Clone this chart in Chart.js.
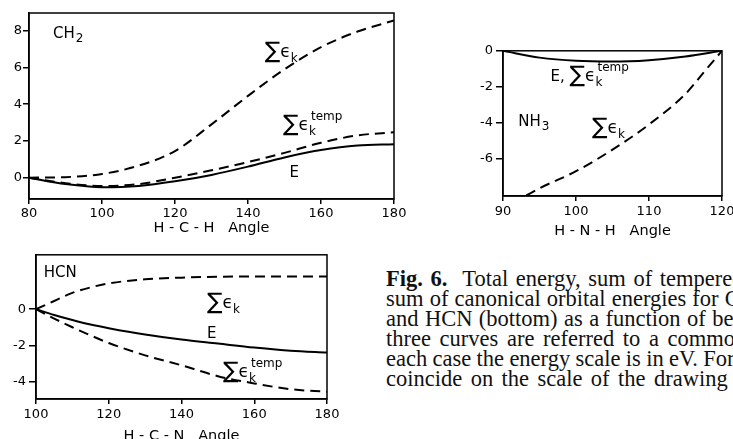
<!DOCTYPE html>
<html>
<head>
<meta charset="utf-8">
<script src="https://cdn.jsdelivr.net/npm/chart.js@4.4.1/dist/chart.umd.min.js"></script>
<style>
  html, body { margin: 0; padding: 0; background: #fff; width: 733px; height: 439px; overflow: hidden; }
  body { position: relative; }
  canvas { position: absolute; }
  .cap { position: absolute; left: 386px; font-family: "Liberation Serif", serif; font-size: 22.5px;
         line-height: 20px; white-space: pre; color: #111; }
  .cap b { font-weight: bold; }
</style>
</head>
<body>
<canvas id="ch2"></canvas>
<canvas id="nh3"></canvas>
<canvas id="hcn"></canvas>
<div class="cap" style="top:269px;word-spacing:2px"><b>Fig. 6.</b>  Total energy, sum of tempered</div>
<div class="cap" style="top:289px;word-spacing:0.5px">sum of canonical orbital energies for CH</div>
<div class="cap" style="top:309px;word-spacing:0.8px">and HCN (bottom) as a function of bending</div>
<div class="cap" style="top:329px;word-spacing:3px">three curves are referred to a common</div>
<div class="cap" style="top:349px;word-spacing:-0.3px">each case the energy scale is in eV. For</div>
<div class="cap" style="top:369px;word-spacing:2.8px">coincide on the scale of the drawing</div>

<script>
/* CH2 (oben links) */
const ch2Angle = [80, 90, 100, 110, 120, 130, 140, 150, 160, 170, 180];
const ch2E     = [0, -0.35, -0.52, -0.45, -0.2, 0.15, 0.6, 1.1, 1.5, 1.75, 1.82];
const ch2Temp  = [0, -0.3, -0.45, -0.35, 0.0, 0.4, 0.85, 1.35, 1.9, 2.3, 2.47];
const ch2Sum   = [0, 0.03, 0.2, 0.65, 1.45, 2.9, 4.45, 5.9, 7.1, 7.95, 8.55];
const ch2XTicks = [80, 100, 120, 140, 160, 180];
const ch2YTicks = [0, 2, 4, 6, 8];

/* NH3 (oben rechts) */
const nh3EAngle   = [90, 95, 100, 105, 110, 115, 120];
const nh3E        = [0, -0.38, -0.56, -0.6, -0.52, -0.32, 0];
const nh3SumAngle = [93.2, 95, 100, 105, 110, 115, 117.5, 120];
const nh3Sum      = [-8.05, -7.65, -6.7, -5.5, -4.1, -2.4, -1.2, 0];
const nh3XTicks = [90, 100, 110, 120];
const nh3YTicks = [0, -2, -4, -6];

/* HCN (unten links) */
const hcnAngle = [100, 105, 110, 115, 120, 130, 140, 150, 160, 170, 180];
const hcnE     = [0, -0.32, -0.6, -0.85, -1.05, -1.4, -1.68, -1.9, -2.12, -2.3, -2.4];
const hcnTemp  = [0, -0.52, -1.0, -1.45, -1.87, -2.55, -3.1, -3.7, -4.1, -4.42, -4.56];
const hcnSum   = [0, 0.45, 0.9, 1.2, 1.42, 1.65, 1.74, 1.79, 1.8, 1.8, 1.8];
const hcnXTicks = [100, 120, 140, 160, 180];
const hcnYTicks = [0, -2, -4];

const FONT = '"DejaVu Sans", sans-serif';
const AXIS_W = 30, PAD_T = 10, PAD_R = 16, XAXIS_H = 45;

function pts(xs, ys) { return xs.map((x, i) => ({ x, y: ys[i] })); }

function line(data, dashed) {
  return { data, borderColor: '#000', borderWidth: 2, pointRadius: 0, fill: false,
           cubicInterpolationMode: 'monotone', borderDash: dashed ? [10, 6] : [] };
}

/* Σε_k mit optionalem "temp" */
function drawSum(ctx, x, y, temp, prefix) {
  if (prefix) {
    ctx.font = '15px ' + FONT;
    ctx.fillText(prefix, x, y);
    x += ctx.measureText(prefix).width;
  }
  ctx.font = '23px ' + FONT;
  ctx.fillText('\u2211', x, y + 1);
  x += ctx.measureText('\u2211').width;
  ctx.font = '17px ' + FONT;
  ctx.fillText('\u03f5', x, y);
  x += ctx.measureText('\u03f5').width;
  ctx.font = '12px ' + FONT;
  ctx.fillText('k', x, y + 5);
  if (temp) ctx.fillText('temp', x + 2, y - 10);
}

function drawChem(ctx, x, y, text, sub) {
  ctx.font = '15px ' + FONT;
  ctx.fillText(text, x, y);
  if (sub) {
    const w = ctx.measureText(text).width;
    ctx.font = '12px ' + FONT;
    ctx.fillText(sub, x + w + 1, y + 4);
  }
}

const boxAndText = {
  id: 'boxAndText',
  afterDatasetsDraw(chart, args, opts) {
    const { ctx, chartArea: a } = chart;
    const sx = chart.scales.x, sy = chart.scales.y;
    ctx.save();
    ctx.strokeStyle = '#000';
    ctx.lineWidth = 1.5;
    ctx.strokeRect(a.left, a.top, a.right - a.left, a.bottom - a.top);
    ctx.fillStyle = '#000';
    ctx.textBaseline = 'alphabetic';
    ctx.textAlign = 'left';
    for (const t of opts.items) {
      const px = sx.getPixelForValue(t.x), py = sy.getPixelForValue(t.y);
      if (t.kind === 'sum') drawSum(ctx, px, py, t.temp, t.prefix);
      else drawChem(ctx, px, py, t.text, t.sub);
    }
    ctx.restore();
  }
};

function makeChart(id, box, cfg) {
  const cv = document.getElementById(id);
  cv.width = box.R - box.L + AXIS_W + PAD_R;
  cv.height = box.B - box.T + PAD_T + XAXIS_H;
  cv.style.left = (box.L - AXIS_W) + 'px';
  cv.style.top = (box.T - PAD_T) + 'px';
  return new Chart(cv, {
    type: 'line',
    data: { datasets: cfg.datasets },
    plugins: [boxAndText],
    options: {
      responsive: false, animation: false,
      layout: { padding: { left: 0, top: PAD_T, right: PAD_R, bottom: 0 } },
      plugins: { legend: { display: false }, tooltip: { enabled: false }, boxAndText: { items: cfg.items } },
      scales: {
        x: {
          type: 'linear', min: cfg.xMin, max: cfg.xMax,
          afterBuildTicks: s => { s.ticks = cfg.xTicks.map(v => ({ value: v })); },
          afterFit: s => { s.height = XAXIS_H; },
          border: { display: true, color: '#000', width: 1.5 },
          grid: { drawOnChartArea: false, drawTicks: true, tickLength: 5, color: '#000', lineWidth: 1.5 },
          ticks: { color: '#000', padding: cfg.xPad, maxRotation: 0, font: { family: FONT, size: 13 } },
          title: { display: true, text: cfg.xTitle, color: '#000', font: { family: FONT, size: 14.5 },
                   padding: { top: 0, bottom: cfg.titlePad } }
        },
        y: {
          type: 'linear', min: cfg.yMin, max: cfg.yMax,
          afterBuildTicks: s => { s.ticks = cfg.yTicks.map(v => ({ value: v })); },
          afterFit: s => { s.width = AXIS_W; },
          border: { display: true, color: '#000', width: 1.5 },
          grid: { drawOnChartArea: false, drawTicks: true, tickLength: cfg.yTick, color: '#000', lineWidth: 1.5 },
          ticks: { color: '#000', padding: cfg.yPad, font: { family: FONT, size: 13 } }
        }
      }
    }
  });
}

makeChart('ch2', { L: 29, T: 13, R: 394, B: 199 }, {
  xMin: 80, xMax: 180, yMin: -1.16, yMax: 8.96, xTicks: ch2XTicks, yTicks: ch2YTicks,
  xPad: 2, yTick: 6, yPad: 1, titlePad: 7, xTitle: 'H - C - H   Angle',
  datasets: [line(pts(ch2Angle, ch2Sum), true), line(pts(ch2Angle, ch2Temp), true), line(pts(ch2Angle, ch2E), false)],
  items: [
    { kind: 'chem', x: 86.6, y: 7.59, text: 'CH', sub: '2' },
    { kind: 'sum', x: 144.6, y: 6.57 },
    { kind: 'sum', x: 149.6, y: 2.6, temp: true },
    { kind: 'chem', x: 151.4, y: 0.04, text: 'E' }
  ]
});

makeChart('nh3', { L: 503, T: 50, R: 722, B: 196 }, {
  xMin: 90, xMax: 120, yMin: -8.08, yMax: 0, xTicks: nh3XTicks, yTicks: nh3YTicks,
  xPad: 3, yTick: 7, yPad: 3, titlePad: 1, xTitle: 'H - N - H   Angle',
  datasets: [line(pts(nh3SumAngle, nh3Sum), true), line(pts(nh3EAngle, nh3E), false)],
  items: [
    { kind: 'sum', x: 96.5, y: -1.67, temp: true, prefix: 'E, ' },
    { kind: 'chem', x: 92.1, y: -4.16, text: 'NH', sub: '3' },
    { kind: 'sum', x: 102.2, y: -4.6 }
  ]
});

makeChart('hcn', { L: 36, T: 254, R: 327, B: 399 }, {
  xMin: 100, xMax: 180, yMin: -4.96, yMax: 3, xTicks: hcnXTicks, yTicks: hcnYTicks,
  xPad: 3, yTick: 7, yPad: 3, titlePad: -1, xTitle: 'H - C - N   Angle',
  datasets: [line(pts(hcnAngle, hcnSum), true), line(pts(hcnAngle, hcnTemp), true), line(pts(hcnAngle, hcnE), false)],
  items: [
    { kind: 'chem', x: 102.1, y: 1.8, text: 'HCN' },
    { kind: 'sum', x: 147, y: 0.09 },
    { kind: 'chem', x: 147, y: -1.61, text: 'E' },
    { kind: 'sum', x: 151.4, y: -3.75, temp: true }
  ]
});
</script>
</body>
</html>
